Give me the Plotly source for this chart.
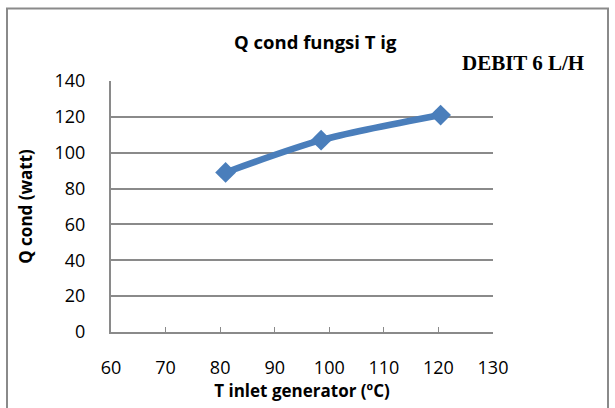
import plotly.graph_objects as go

t_inlet = [81, 98.5, 120.4]
q_cond = [89, 107, 121]
x_ticks = [60, 70, 80, 90, 100, 110, 120, 130]
y_ticks = [0, 20, 40, 60, 80, 100, 120, 140]

W, H = 615, 408
L, R, T, B = 111, 493, 81, 334

def px(x):
    return (x - L) / (R - L)

def py(y):
    return (B - y) / (B - T)

fig = go.Figure()
fig.add_trace(go.Scatter(
    x=t_inlet, y=q_cond, mode="lines+markers",
    line=dict(color="#4A7EBB", width=6.5, shape="spline", smoothing=0.8),
    marker=dict(symbol="diamond", size=16, color="#4A7EBB"),
    showlegend=False,
))

font = "Open Sans, Liberation Sans, sans-serif"
fig.update_layout(
    width=W, height=H,
    margin=dict(l=L, r=W - R, t=T, b=H - B),
    paper_bgcolor="white", plot_bgcolor="white",
    font=dict(family=font, color="black", size=18),
    xaxis=dict(range=[60, 130], tickvals=x_ticks, showgrid=False,
               showline=True, linecolor="#8a8a8a", linewidth=2,
               ticks="inside", ticklen=5, tickcolor="#8a8a8a", tickwidth=1,
               zeroline=False, ticklabelstandoff=18,
               title=dict(text="<b>T inlet generator (ºC)</b>", font=dict(size=17), standoff=6)),
    yaxis=dict(range=[0, 140], tickvals=y_ticks, showgrid=True,
               gridcolor="#8a8a8a", gridwidth=1.5,
               showline=True, linecolor="#8a8a8a", linewidth=2,
               ticks="", zeroline=False, ticklabelstandoff=20,
               title=dict(text="<b>Q cond (watt)</b>", font=dict(size=17), standoff=18)),
    annotations=[
        dict(text="<b>Q cond fungsi T ig</b>", x=px(315), y=py(41), xref="paper", yref="paper",
             xanchor="center", yanchor="middle",
             showarrow=False, font=dict(size=18.5, family=font)),
        dict(text="<b>DEBIT 6 L/H</b>", x=px(523), y=py(63), xref="paper", yref="paper",
             xanchor="center", yanchor="middle",
             showarrow=False, font=dict(size=21, family="Liberation Serif, Times New Roman, serif")),
    ],
    shapes=[
        dict(type="rect", xref="paper", yref="paper",
             x0=px(7), x1=px(608), y0=py(425), y1=py(8),
             line=dict(color="#8a8a8a", width=2), layer="below"),
    ],
)

fig.write_html("out.html")
